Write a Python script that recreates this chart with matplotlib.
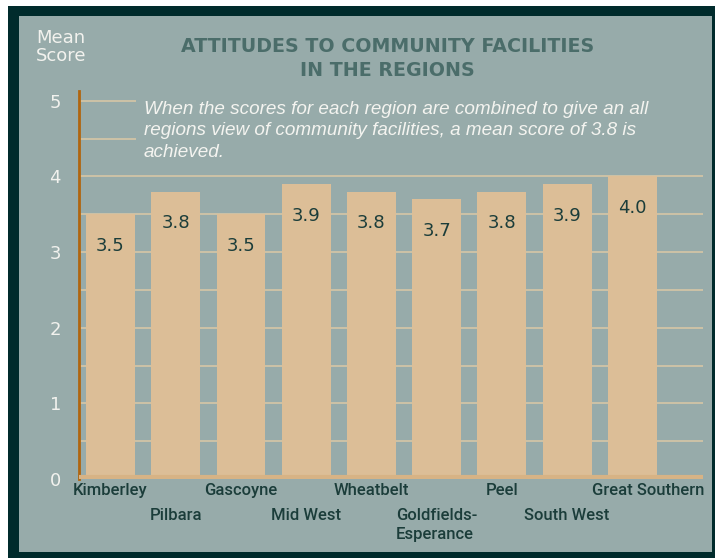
import matplotlib.pyplot as plt
from matplotlib.patches import Rectangle

regions = ['Kimberley', 'Pilbara', 'Gascoyne', 'Mid West', 'Wheatbelt',
           'Goldfields-\nEsperance', 'Peel', 'South West', 'Great Southern']
scores = [3.5, 3.8, 3.5, 3.9, 3.8, 3.7, 3.8, 3.9, 4.0]
score_labels = ['3.5', '3.8', '3.5', '3.9', '3.8', '3.7', '3.8', '3.9', '4.0']
yticks = [0, 1, 2, 3, 4, 5]

bg = '#97abaa'
dark = '#002b2c'
tan = '#dcbe97'
grid_col = '#d6c6a6'
txt_dark = '#1b3d3a'

fig = plt.figure(figsize=(7.15, 5.58), dpi=100)
fig.patch.set_facecolor('white')
# dark frame + grey panel (behind the axes)
fig.patches.append(Rectangle((0.011, 0.0), 0.989, 0.989, transform=fig.transFigure,
                             facecolor=dark, edgecolor='none', zorder=-2))
fig.patches.append(Rectangle((0.0266, 0.0108), 0.9692, 0.9602, transform=fig.transFigure,
                             facecolor=bg, edgecolor='none', zorder=-1))

ax = fig.add_axes([0.1105, 0.1416, 0.8725, 0.6954])
ax.set_facecolor('none')
ax.set_xlim(-0.483, 9.08)
ax.set_ylim(0, 5.13)

# gridlines
for g in [0.5, 1, 1.5, 2, 2.5, 3, 3.5, 4]:
    ax.hlines(g, -0.483, 9.08, color=grid_col, lw=1.2, zorder=1)
for g in [4.5, 5]:
    ax.hlines(g, -0.483, 0.39, color=grid_col, lw=1.2, zorder=1)

x = list(range(len(regions)))
ax.bar(x, scores, width=0.75, color=tan, zorder=2)
ax.hlines(0.02, -0.483, 9.08, color='#d7b385', lw=3, zorder=3)

for xi, s, lab in zip(x, scores, score_labels):
    ax.text(xi, s - 0.42, lab, ha='center', va='center', fontsize=13,
            color=txt_dark, zorder=4)

# category labels, staggered
for xi, lab in zip(x, regions):
    if xi % 2 == 0:
        y = -0.05
    else:
        y = -0.38
    dx = 0.24 if lab == 'Great Southern' else 0
    ax.text(xi + dx, y, lab, ha='center', va='top', fontsize=12,
            fontweight='medium', color=txt_dark, linespacing=1.35,
            family=['Roboto', 'DejaVu Sans'], multialignment='left')

for sp in ['top', 'right', 'bottom']:
    ax.spines[sp].set_visible(False)
ax.spines['left'].set_color('#b0650f')
ax.spines['left'].set_linewidth(2)
ax.set_xticks([])
ax.set_yticks(yticks)
ax.tick_params(axis='y', length=0, pad=13, labelsize=13, labelcolor='#f2f2ee')

fig.text(0.085, 0.916, 'Mean\nScore', ha='center', va='center', fontsize=13,
         color='#f2f2ee', linespacing=1.05)
fig.text(0.542, 0.895, 'ATTITUDES TO COMMUNITY FACILITIES\nIN THE REGIONS',
         ha='center', va='center', fontsize=13.7, fontweight='bold',
         color='#4b6d6a', linespacing=1.3)
ax.text(0.51, 5.0,
        'When the scores for each region are combined to give an all\n'
        'regions view of community facilities, a mean score of 3.8 is\n'
        'achieved.',
        ha='left', va='top', fontsize=13.6, style='italic', color='#f4f4f0',
        linespacing=1.35, family=['Liberation Sans', 'DejaVu Sans'])

plt.savefig('out.png', dpi=100, facecolor=fig.get_facecolor())
